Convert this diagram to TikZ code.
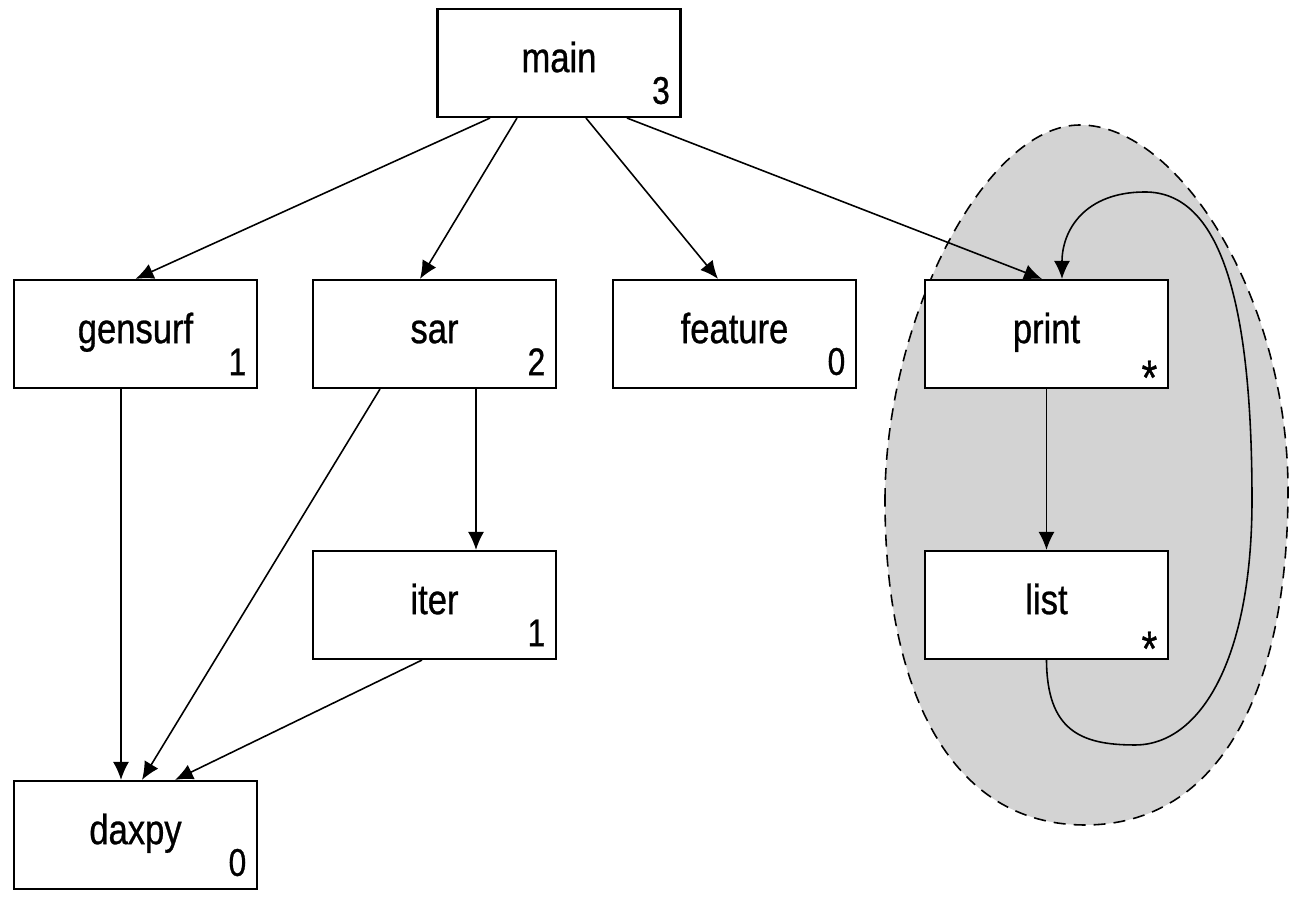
\documentclass[tikz,border=0pt]{standalone}
\usepackage{fontspec}
\setmainfont[FakeStretch=0.82,FakeBold=0.7]{Liberation Sans}
\usetikzlibrary{arrows.meta}
\definecolor{loopgray}{RGB}{211,211,211}
\newcommand\recmark{\raisebox{-0.5em}[0.35em][0pt]{\fontsize{14}{14}\selectfont*}}
\begin{document}
\begin{tikzpicture}[func/.style={draw, line width=0.6pt, fill=white, minimum width=2.43cm, minimum height=1.08cm, inner sep=0pt, font=\fontsize{12}{14}\selectfont, text height=0.52em, text depth=0pt},
  cnt/.style={anchor=south east, inner sep=0pt, shift={(-0.11,0.13)}, font=\fontsize{11}{12}\selectfont},
  >={Latex[length=1.8mm,width=1.6mm]}, line width=0.45pt]
\useasboundingbox (0,0) rectangle (12.98,-8.99);
\draw [dash pattern=on 3.4pt off 2.3pt, fill=loopgray] (8.85,-5.0) .. controls (8.85,-3.2) and (9.85,-1.25) .. (10.8,-1.25) .. controls (11.8,-1.25) and (12.88,-3.0) .. (12.88,-4.9) .. controls (12.88,-6.9) and (12.2,-8.25) .. (10.85,-8.25) .. controls (9.5,-8.25) and (8.85,-6.9) .. cycle;
\node[func, label={[cnt]south east:3}] (main) at (5.59,-0.63) {main};
\node[func, label={[cnt]south east:1}] (gensurf) at (1.355,-3.34) {gensurf};
\node[func, label={[cnt]south east:2}] (sar) at (4.345,-3.34) {sar};
\node[func, label={[cnt]south east:0}] (feature) at (7.345,-3.34) {feature};
\node[func, label={[cnt]south east:\recmark}] (print) at (10.465,-3.34) {print};
\node[func, label={[cnt]south east:1}] (iter) at (4.345,-6.05) {iter};
\node[func, label={[cnt]south east:\recmark}] (list) at (10.465,-6.05) {list};
\node[func, label={[cnt]south east:0}] (daxpy) at (1.355,-8.35) {daxpy};
\draw [->] ([xshift=-0.69cm]main.south) -- (gensurf.north);
\draw [->] ([xshift=-0.42cm]main.south) -- ([xshift=-0.145cm]sar.north);
\draw [->] ([xshift=0.27cm]main.south) -- ([xshift=-0.165cm]feature.north);
\draw [->] ([xshift=0.68cm]main.south) -- ([xshift=-0.045cm]print.north);
\draw [->] ([xshift=-0.145cm]gensurf.south) -- ([xshift=-0.145cm]daxpy.north);
\draw [->] ([xshift=-0.545cm]sar.south) -- ([xshift=0.065cm]daxpy.north);
\draw [->] ([xshift=0.415cm]sar.south) -- ([xshift=0.415cm]iter.north);
\draw [->] ([xshift=-0.125cm]iter.south) -- ([xshift=0.395cm]daxpy.north);
\draw [->] (print) -- (list);
\draw [->] (list.south) .. controls (10.47,-7.3) and (10.8,-7.45) .. (11.35,-7.45) .. controls (12.0,-7.45) and (12.52,-6.6) .. (12.52,-5.0) .. controls (12.52,-3.0) and (12.2,-1.92) .. (11.45,-1.92) .. controls (10.85,-1.92) and (10.62,-2.3) .. ([xshift=0.155cm]print.north);
\end{tikzpicture}
\end{document}
